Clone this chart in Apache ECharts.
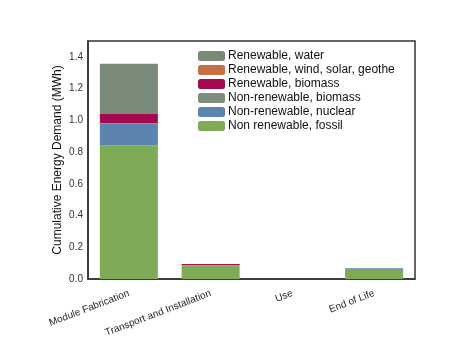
<!DOCTYPE html>
<html>
<head>
<meta charset="utf-8">
<script src="https://cdn.jsdelivr.net/npm/echarts@6/dist/echarts.min.js"></script>
<style>
  html, body { margin: 0; padding: 0; background: #fff; }
  #chart { width: 458px; height: 345px; }
</style>
</head>
<body>
<div id="chart"></div>
<script>
// Life-cycle stages on the x axis
const stages = ['Module Fabrication', 'Transport and Installation', 'Use', 'End of Life'];

// Cumulative energy demand by source (MWh), stacked from the bottom up
const fossil = [0.843, 0.086, 0, 0.063];
const nuclear = [0.136, 0.002, 0, 0.004];
const nonRenewableBiomass = [0.002, 0.0, 0, 0.0];
const renewableBiomass = [0.059, 0.006, 0, 0.0];
const windSolarGeo = [0.007, 0.0, 0, 0.0];
const water = [0.31, 0.001, 0, 0.001];

const yTicks = [0, 0.2, 0.4, 0.6, 0.8, 1.0, 1.2, 1.4];

const seriesDefs = [
  { name: 'Non renewable, fossil', data: fossil, color: '#7fab57' },
  { name: 'Non-renewable, nuclear', data: nuclear, color: '#5b84ae' },
  { name: 'Non-renewable, biomass', data: nonRenewableBiomass, color: '#7d8e7c' },
  { name: 'Renewable, biomass', data: renewableBiomass, color: '#a50a50' },
  { name: 'Renewable, wind, solar, geothe', data: windSolarGeo, color: '#c86f45' },
  { name: 'Renewable, water', data: water, color: '#7a8a78' }
];

const chart = echarts.init(document.getElementById('chart'));
chart.setOption({
  animation: false,
  textStyle: { fontFamily: 'Liberation Sans, Arial, sans-serif' },
  grid: { left: 88, right: 43, top: 41, bottom: 66, show: true, borderColor: '#333', borderWidth: 1.5 },
  legend: {
    data: seriesDefs.map(s => s.name).reverse(),
    orient: 'vertical',
    left: 196,
    top: 49,
    itemWidth: 27,
    itemHeight: 10,
    itemGap: 0,
    padding: [0, 6, 0, 2],
    textStyle: { fontSize: 12, color: '#111', padding: [0, 0, 0, -2], lineHeight: 14 },
    itemStyle: { borderWidth: 0 }
  },
  xAxis: {
    type: 'category',
    data: stages,
    axisLine: { show: true, lineStyle: { color: '#333', width: 1.5 } },
    axisTick: { show: false },
    axisLabel: { rotate: 21, fontSize: 10, color: '#222', margin: 14, interval: 0 }
  },
  yAxis: {
    type: 'value',
    min: 0,
    max: 1.5,
    interval: 0.2,
    name: 'Cumulative Energy Demand (MWh)',
    nameLocation: 'middle',
    nameGap: 24,
    nameMoveOverlap: false,
    nameTextStyle: { fontSize: 12, color: '#111' },
    axisLine: { show: true, lineStyle: { color: '#333', width: 1.5 } },
    axisTick: { show: false },
    splitLine: { show: false },
    axisLabel: {
      fontSize: 10,
      color: '#333',
      margin: 5,
      showMaxLabel: false,
      formatter: v => yTicks.some(t => Math.abs(t - v) < 1e-9) ? v.toFixed(1) : ''
    }
  },
  series: seriesDefs.map(s => ({
    name: s.name,
    type: 'bar',
    stack: 'total',
    barWidth: '71%',
    data: s.data,
    itemStyle: { color: s.color }
  }))
});
</script>
</body>
</html>
